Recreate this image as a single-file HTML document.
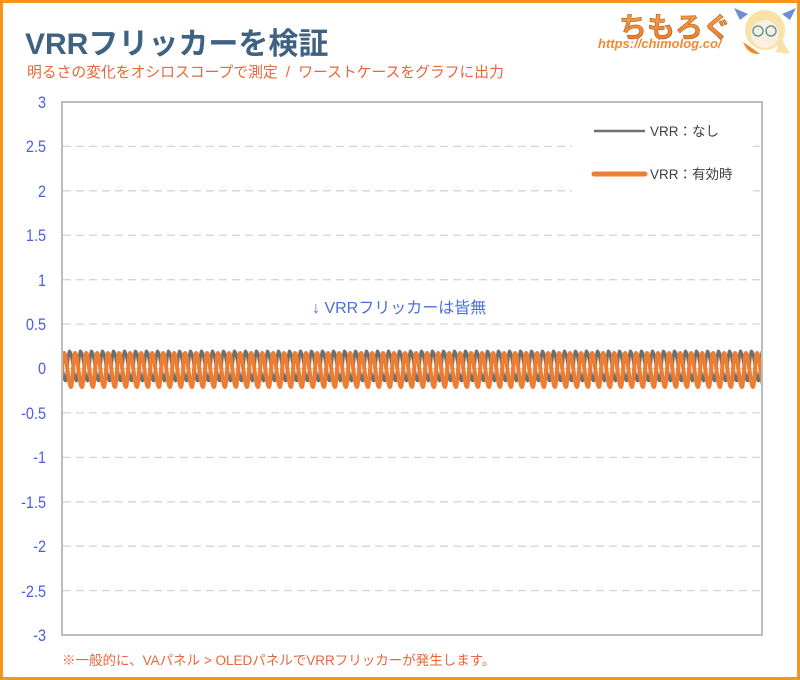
<!DOCTYPE html>
<html><head><meta charset="utf-8">
<style>
html,body{margin:0;padding:0;background:#fff;}
svg{display:block;}
text{font-family:"Liberation Sans","Noto Sans CJK JP",sans-serif;}
</style></head>
<body>
<svg width="800" height="680" viewBox="0 0 800 680" xmlns="http://www.w3.org/2000/svg">
<defs>
<clipPath id="pc"><rect x="63" y="103" width="698" height="531"/></clipPath>
<linearGradient id="lg" x1="0" y1="0" x2="0" y2="1">
<stop offset="0" stop-color="#f6a14a"/><stop offset="1" stop-color="#e8772a"/>
</linearGradient>
</defs>
<rect x="0" y="0" width="800" height="680" fill="#fff"/>
<rect x="1.5" y="1.5" width="797" height="677" fill="none" stroke="#f7941d" stroke-width="3"/>

<!-- Title -->
<text x="25" y="54" font-size="30" font-weight="bold" fill="#3f6282">VRRフリッカーを検証</text>
<text x="27" y="77" font-size="14.8" fill="#e8663a">明るさの変化をオシロスコープで測定 &#160;/&#160; ワーストケースをグラフに出力</text>

<!-- Logo -->
<text x="619" y="37" font-size="28" font-weight="bold" fill="url(#lg)" stroke="#b05a1a" stroke-width="0.6">ちもろぐ</text>
<text x="598" y="48" font-size="13" font-weight="bold" font-style="italic" fill="#f08a30">https://chimolog.co/</text>
<g>
<path d="M748 14 L734 8 L740 20 Z" fill="#6a8fd8"/>
<path d="M782 14 L796 8 L790 20 Z" fill="#6a8fd8"/>
<ellipse cx="765" cy="30" rx="20" ry="20" fill="#f8e2a8"/>
<ellipse cx="765" cy="34" rx="14" ry="14" fill="#fdeee0"/>
<circle cx="758" cy="31" r="5" fill="none" stroke="#5aa0a0" stroke-width="1.5"/>
<circle cx="771" cy="31" r="5" fill="none" stroke="#5aa0a0" stroke-width="1.5"/>
<path d="M743 42 Q748 55 760 54 L752 48 Z" fill="#f08a30"/>
<path d="M780 36 L790 54 L776 52 Z" fill="#f8e2a8"/>
</g>

<!-- Gridlines -->
<g stroke="#d6d6d6" stroke-width="1.3" stroke-dasharray="8,5">
<line x1="63" x2="761" y1="146.4" y2="146.4"/>
<line x1="63" x2="761" y1="190.8" y2="190.8"/>
<line x1="63" x2="761" y1="235.3" y2="235.3"/>
<line x1="63" x2="761" y1="279.7" y2="279.7"/>
<line x1="63" x2="761" y1="324.1" y2="324.1"/>
<line x1="63" x2="761" y1="412.9" y2="412.9"/>
<line x1="63" x2="761" y1="457.4" y2="457.4"/>
<line x1="63" x2="761" y1="501.8" y2="501.8"/>
<line x1="63" x2="761" y1="546.2" y2="546.2"/>
<line x1="63" x2="761" y1="590.6" y2="590.6"/>
</g>
<line x1="63" x2="761" y1="368.5" y2="368.5" stroke="#d0d0d0" stroke-width="1.3"/>

<!-- Legend box -->
<rect x="572" y="110" width="181" height="88" fill="#fff"/>
<line x1="594" x2="645" y1="131" y2="131" stroke="#707070" stroke-width="2.5"/>
<text x="650" y="136" font-size="13.5" fill="#404040">VRR：なし</text>
<line x1="594" x2="645" y1="174" y2="174" stroke="#ed7d31" stroke-width="5" stroke-linecap="round"/>
<text x="650" y="179" font-size="13.5" fill="#404040">VRR：有効時</text>

<!-- Annotation -->
<text x="312" y="313" font-size="16" fill="#4a6ee0">↓ VRRフリッカーは皆無</text>

<!-- Series -->
<g clip-path="url(#pc)" fill="none" stroke-linejoin="round" stroke-linecap="round">
<path stroke="#6e6e6e" stroke-width="3" d="M54.5,381
c1.5,0 2.5,-30 4,-30 c2.5,0 4.5,30 7,30 c1.5,0 2.5,-30 4,-30 c2.5,0 4.5,30 7,30 c1.5,0 2.5,-30 4,-30 c2.5,0 4.5,30 7,30 c1.5,0 2.5,-30 4,-30 c2.5,0 4.5,30 7,30 c1.5,0 2.5,-30 4,-30 c2.5,0 4.5,30 7,30
c1.5,0 2.5,-30 4,-30 c2.5,0 4.5,30 7,30 c1.5,0 2.5,-30 4,-30 c2.5,0 4.5,30 7,30 c1.5,0 2.5,-30 4,-30 c2.5,0 4.5,30 7,30 c1.5,0 2.5,-30 4,-30 c2.5,0 4.5,30 7,30 c1.5,0 2.5,-30 4,-30 c2.5,0 4.5,30 7,30
c1.5,0 2.5,-30 4,-30 c2.5,0 4.5,30 7,30 c1.5,0 2.5,-30 4,-30 c2.5,0 4.5,30 7,30 c1.5,0 2.5,-30 4,-30 c2.5,0 4.5,30 7,30 c1.5,0 2.5,-30 4,-30 c2.5,0 4.5,30 7,30 c1.5,0 2.5,-30 4,-30 c2.5,0 4.5,30 7,30
c1.5,0 2.5,-30 4,-30 c2.5,0 4.5,30 7,30 c1.5,0 2.5,-30 4,-30 c2.5,0 4.5,30 7,30 c1.5,0 2.5,-30 4,-30 c2.5,0 4.5,30 7,30 c1.5,0 2.5,-30 4,-30 c2.5,0 4.5,30 7,30 c1.5,0 2.5,-30 4,-30 c2.5,0 4.5,30 7,30
c1.5,0 2.5,-30 4,-30 c2.5,0 4.5,30 7,30 c1.5,0 2.5,-30 4,-30 c2.5,0 4.5,30 7,30 c1.5,0 2.5,-30 4,-30 c2.5,0 4.5,30 7,30 c1.5,0 2.5,-30 4,-30 c2.5,0 4.5,30 7,30 c1.5,0 2.5,-30 4,-30 c2.5,0 4.5,30 7,30
c1.5,0 2.5,-30 4,-30 c2.5,0 4.5,30 7,30 c1.5,0 2.5,-30 4,-30 c2.5,0 4.5,30 7,30 c1.5,0 2.5,-30 4,-30 c2.5,0 4.5,30 7,30 c1.5,0 2.5,-30 4,-30 c2.5,0 4.5,30 7,30 c1.5,0 2.5,-30 4,-30 c2.5,0 4.5,30 7,30
c1.5,0 2.5,-30 4,-30 c2.5,0 4.5,30 7,30 c1.5,0 2.5,-30 4,-30 c2.5,0 4.5,30 7,30 c1.5,0 2.5,-30 4,-30 c2.5,0 4.5,30 7,30 c1.5,0 2.5,-30 4,-30 c2.5,0 4.5,30 7,30 c1.5,0 2.5,-30 4,-30 c2.5,0 4.5,30 7,30
c1.5,0 2.5,-30 4,-30 c2.5,0 4.5,30 7,30 c1.5,0 2.5,-30 4,-30 c2.5,0 4.5,30 7,30 c1.5,0 2.5,-30 4,-30 c2.5,0 4.5,30 7,30 c1.5,0 2.5,-30 4,-30 c2.5,0 4.5,30 7,30 c1.5,0 2.5,-30 4,-30 c2.5,0 4.5,30 7,30
c1.5,0 2.5,-30 4,-30 c2.5,0 4.5,30 7,30 c1.5,0 2.5,-30 4,-30 c2.5,0 4.5,30 7,30 c1.5,0 2.5,-30 4,-30 c2.5,0 4.5,30 7,30 c1.5,0 2.5,-30 4,-30 c2.5,0 4.5,30 7,30 c1.5,0 2.5,-30 4,-30 c2.5,0 4.5,30 7,30
c1.5,0 2.5,-30 4,-30 c2.5,0 4.5,30 7,30 c1.5,0 2.5,-30 4,-30 c2.5,0 4.5,30 7,30 c1.5,0 2.5,-30 4,-30 c2.5,0 4.5,30 7,30 c1.5,0 2.5,-30 4,-30 c2.5,0 4.5,30 7,30 c1.5,0 2.5,-30 4,-30 c2.5,0 4.5,30 7,30
c1.5,0 2.5,-30 4,-30 c2.5,0 4.5,30 7,30 c1.5,0 2.5,-30 4,-30 c2.5,0 4.5,30 7,30 c1.5,0 2.5,-30 4,-30 c2.5,0 4.5,30 7,30 c1.5,0 2.5,-30 4,-30 c2.5,0 4.5,30 7,30 c1.5,0 2.5,-30 4,-30 c2.5,0 4.5,30 7,30
c1.5,0 2.5,-30 4,-30 c2.5,0 4.5,30 7,30 c1.5,0 2.5,-30 4,-30 c2.5,0 4.5,30 7,30 c1.5,0 2.5,-30 4,-30 c2.5,0 4.5,30 7,30 c1.5,0 2.5,-30 4,-30 c2.5,0 4.5,30 7,30 c1.5,0 2.5,-30 4,-30 c2.5,0 4.5,30 7,30
c1.5,0 2.5,-30 4,-30 c2.5,0 4.5,30 7,30 c1.5,0 2.5,-30 4,-30 c2.5,0 4.5,30 7,30 c1.5,0 2.5,-30 4,-30 c2.5,0 4.5,30 7,30 c1.5,0 2.5,-30 4,-30 c2.5,0 4.5,30 7,30 c1.5,0 2.5,-30 4,-30 c2.5,0 4.5,30 7,30
c1.5,0 2.5,-30 4,-30 c2.5,0 4.5,30 7,30"/>
<path stroke="#ed7d31" stroke-width="4" d="M60,387
c1.5,0 2.5,-34 4,-34 c2.5,0 4.5,34 7,34 c1.5,0 2.5,-34 4,-34 c2.5,0 4.5,34 7,34 c1.5,0 2.5,-34 4,-34 c2.5,0 4.5,34 7,34 c1.5,0 2.5,-34 4,-34 c2.5,0 4.5,34 7,34 c1.5,0 2.5,-34 4,-34 c2.5,0 4.5,34 7,34
c1.5,0 2.5,-34 4,-34 c2.5,0 4.5,34 7,34 c1.5,0 2.5,-34 4,-34 c2.5,0 4.5,34 7,34 c1.5,0 2.5,-34 4,-34 c2.5,0 4.5,34 7,34 c1.5,0 2.5,-34 4,-34 c2.5,0 4.5,34 7,34 c1.5,0 2.5,-34 4,-34 c2.5,0 4.5,34 7,34
c1.5,0 2.5,-34 4,-34 c2.5,0 4.5,34 7,34 c1.5,0 2.5,-34 4,-34 c2.5,0 4.5,34 7,34 c1.5,0 2.5,-34 4,-34 c2.5,0 4.5,34 7,34 c1.5,0 2.5,-34 4,-34 c2.5,0 4.5,34 7,34 c1.5,0 2.5,-34 4,-34 c2.5,0 4.5,34 7,34
c1.5,0 2.5,-34 4,-34 c2.5,0 4.5,34 7,34 c1.5,0 2.5,-34 4,-34 c2.5,0 4.5,34 7,34 c1.5,0 2.5,-34 4,-34 c2.5,0 4.5,34 7,34 c1.5,0 2.5,-34 4,-34 c2.5,0 4.5,34 7,34 c1.5,0 2.5,-34 4,-34 c2.5,0 4.5,34 7,34
c1.5,0 2.5,-34 4,-34 c2.5,0 4.5,34 7,34 c1.5,0 2.5,-34 4,-34 c2.5,0 4.5,34 7,34 c1.5,0 2.5,-34 4,-34 c2.5,0 4.5,34 7,34 c1.5,0 2.5,-34 4,-34 c2.5,0 4.5,34 7,34 c1.5,0 2.5,-34 4,-34 c2.5,0 4.5,34 7,34
c1.5,0 2.5,-34 4,-34 c2.5,0 4.5,34 7,34 c1.5,0 2.5,-34 4,-34 c2.5,0 4.5,34 7,34 c1.5,0 2.5,-34 4,-34 c2.5,0 4.5,34 7,34 c1.5,0 2.5,-34 4,-34 c2.5,0 4.5,34 7,34 c1.5,0 2.5,-34 4,-34 c2.5,0 4.5,34 7,34
c1.5,0 2.5,-34 4,-34 c2.5,0 4.5,34 7,34 c1.5,0 2.5,-34 4,-34 c2.5,0 4.5,34 7,34 c1.5,0 2.5,-34 4,-34 c2.5,0 4.5,34 7,34 c1.5,0 2.5,-34 4,-34 c2.5,0 4.5,34 7,34 c1.5,0 2.5,-34 4,-34 c2.5,0 4.5,34 7,34
c1.5,0 2.5,-34 4,-34 c2.5,0 4.5,34 7,34 c1.5,0 2.5,-34 4,-34 c2.5,0 4.5,34 7,34 c1.5,0 2.5,-34 4,-34 c2.5,0 4.5,34 7,34 c1.5,0 2.5,-34 4,-34 c2.5,0 4.5,34 7,34 c1.5,0 2.5,-34 4,-34 c2.5,0 4.5,34 7,34
c1.5,0 2.5,-34 4,-34 c2.5,0 4.5,34 7,34 c1.5,0 2.5,-34 4,-34 c2.5,0 4.5,34 7,34 c1.5,0 2.5,-34 4,-34 c2.5,0 4.5,34 7,34 c1.5,0 2.5,-34 4,-34 c2.5,0 4.5,34 7,34 c1.5,0 2.5,-34 4,-34 c2.5,0 4.5,34 7,34
c1.5,0 2.5,-34 4,-34 c2.5,0 4.5,34 7,34 c1.5,0 2.5,-34 4,-34 c2.5,0 4.5,34 7,34 c1.5,0 2.5,-34 4,-34 c2.5,0 4.5,34 7,34 c1.5,0 2.5,-34 4,-34 c2.5,0 4.5,34 7,34 c1.5,0 2.5,-34 4,-34 c2.5,0 4.5,34 7,34
c1.5,0 2.5,-34 4,-34 c2.5,0 4.5,34 7,34 c1.5,0 2.5,-34 4,-34 c2.5,0 4.5,34 7,34 c1.5,0 2.5,-34 4,-34 c2.5,0 4.5,34 7,34 c1.5,0 2.5,-34 4,-34 c2.5,0 4.5,34 7,34 c1.5,0 2.5,-34 4,-34 c2.5,0 4.5,34 7,34
c1.5,0 2.5,-34 4,-34 c2.5,0 4.5,34 7,34 c1.5,0 2.5,-34 4,-34 c2.5,0 4.5,34 7,34 c1.5,0 2.5,-34 4,-34 c2.5,0 4.5,34 7,34 c1.5,0 2.5,-34 4,-34 c2.5,0 4.5,34 7,34 c1.5,0 2.5,-34 4,-34 c2.5,0 4.5,34 7,34
c1.5,0 2.5,-34 4,-34 c2.5,0 4.5,34 7,34 c1.5,0 2.5,-34 4,-34 c2.5,0 4.5,34 7,34 c1.5,0 2.5,-34 4,-34 c2.5,0 4.5,34 7,34 c1.5,0 2.5,-34 4,-34 c2.5,0 4.5,34 7,34 c1.5,0 2.5,-34 4,-34 c2.5,0 4.5,34 7,34
c1.5,0 2.5,-34 4,-34 c2.5,0 4.5,34 7,34"/>
</g>

<!-- Plot border -->
<rect x="62" y="102" width="700" height="533" fill="none" stroke="#bdbdbd" stroke-width="2"/>

<!-- Y tick labels -->
<g transform="translate(46,0) scale(0.85,1)" font-size="17" fill="#4a5ee0" text-anchor="end">
<text x="0" y="108">3</text>
<text x="0" y="152">2.5</text>
<text x="0" y="197">2</text>
<text x="0" y="241">1.5</text>
<text x="0" y="286">1</text>
<text x="0" y="330">0.5</text>
<text x="0" y="374">0</text>
<text x="0" y="419">-0.5</text>
<text x="0" y="463">-1</text>
<text x="0" y="508">-1.5</text>
<text x="0" y="552">-2</text>
<text x="0" y="597">-2.5</text>
<text x="0" y="641">-3</text>
</g>

<!-- Footnote -->
<text x="62" y="665" font-size="13.5" fill="#e8663a">※一般的に、VAパネル &gt; OLEDパネルでVRRフリッカーが発生します。</text>
</svg>
</body></html>
